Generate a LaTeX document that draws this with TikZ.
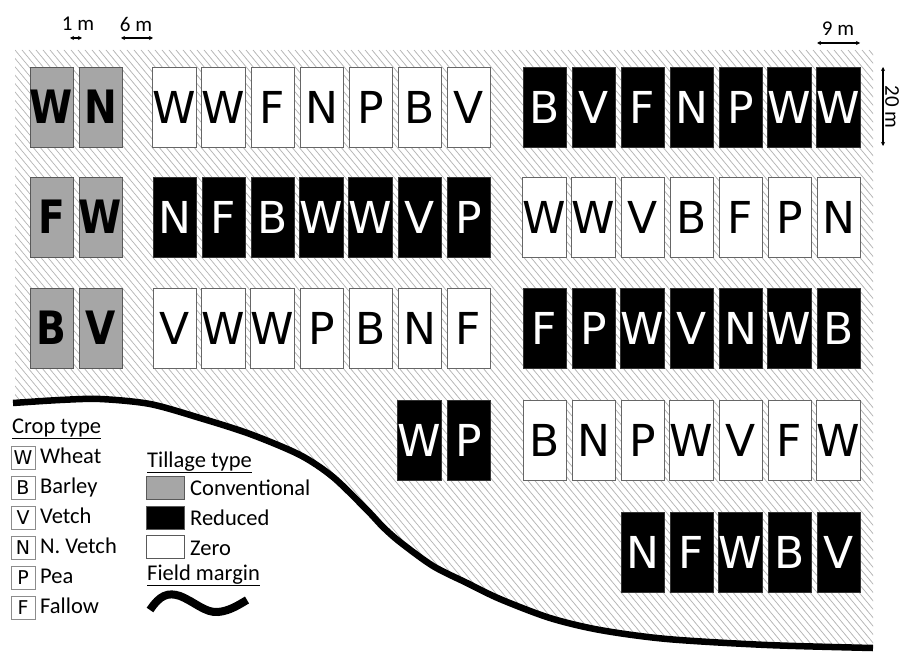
\documentclass[tikz,border=0pt]{standalone}
\usepackage{fontspec}
\setmainfont{Carlito}
\newfontfamily\cellfont{DejaVu Sans}
\newfontfamily\cellboldfont[FakeStretch=0.85]{DejaVu Sans Bold}
\usetikzlibrary{arrows.meta}
\tikzset{
  cellbox/.style={minimum width=43pt, minimum height=80pt, inner sep=0pt, outer sep=0pt, line width=0.8pt, font=\cellfont\fontsize{44}{44}\selectfont},
  convcell/.style={cellbox, draw=black!65, fill=black!35, font=\cellboldfont\fontsize{46}{46}\selectfont},
  redcell/.style={cellbox, draw=black!80, fill=black, text=white},
  zerocell/.style={cellbox, draw=black!60, fill=white},
  legtext/.style={font=\fontsize{22.5}{22.5}\selectfont, anchor=base west, inner sep=0pt},
  legcell/.style={draw=black!45, line width=0.7pt, minimum width=24pt, minimum height=23pt, inner sep=0pt, font=\cellfont\fontsize{19}{19}\selectfont},
  tillbox/.style={draw=black!65, line width=0.8pt, minimum width=38pt, minimum height=23pt, inner sep=0pt},
  scalebar/.style={{Stealth[length=4pt,width=4pt]}-{Stealth[length=4pt,width=4pt]}, line width=1.1pt},
  scaletext/.style={font=\fontsize{21}{21}\selectfont, inner sep=0pt},
  hatchline/.style={draw=black!30, line width=0.7pt},
  marginline/.style={line width=6.5pt},
}
\begin{document}
\begin{tikzpicture}[x=1pt,y=-1pt]
\useasboundingbox (0,0) rectangle (902,655);
\fill[white] (0,0) rectangle (902,655);

% hatched field area
\begin{scope}
\clip plot[smooth,tension=0.5] coordinates {(13,403) (60,400) (100,399) (150,404) (200,418) (250,434) (300,455) (333,477) (367,510) (383,527) (400,542) (433,566) (467,583) (500,599) (550,618) (600,630) (667,639) (767,645) (873,648)} -- (873,50) -- (15,50) -- (15,403) -- cycle;
\foreach \i in {-300,-293,...,880} \draw[hatchline] (\i,50) -- ++(600,720);
\end{scope}

% field margin
\draw[marginline] plot[smooth,tension=0.5] coordinates {(13,403) (60,400) (100,399) (150,404) (200,418) (250,434) (300,455) (333,477) (367,510) (383,527) (400,542) (433,566) (467,583) (500,599) (550,618) (600,630) (667,639) (767,645) (873,648)};

% row 1
\foreach \l [count=\i] in {W,N} \node[convcell] (c1\i) at ({51.5+49*(\i-1)},107) {\l};
\foreach \l [count=\i] in {W,W,F,N,P,B,V} \node[zerocell] (m1\i) at ({174.5+49*(\i-1)},107) {\l};
\foreach \l [count=\i] in {B,V,F,N,P,W,W} \node[redcell] (r1\i) at ({544.5+49*(\i-1)},107) {\l};
% row 2
\foreach \l [count=\i] in {F,W} \node[convcell] (c2\i) at ({51.5+49*(\i-1)},217) {\l};
\foreach \l [count=\i] in {N,F,B,W,W,V,P} \node[redcell] (m2\i) at ({174.5+49*(\i-1)},217) {\l};
\foreach \l [count=\i] in {W,W,V,B,F,P,N} \node[zerocell] (r2\i) at ({544.5+49*(\i-1)},217) {\l};
% row 3
\foreach \l [count=\i] in {B,V} \node[convcell] (c3\i) at ({51.5+49*(\i-1)},328) {\l};
\foreach \l [count=\i] in {V,W,W,P,B,N,F} \node[zerocell] (m3\i) at ({174.5+49*(\i-1)},328) {\l};
\foreach \l [count=\i] in {F,P,W,V,N,W,B} \node[redcell] (r3\i) at ({544.5+49*(\i-1)},328) {\l};
% row 4
\foreach \l [count=\i] in {W,P} \node[redcell] (m4\i) at ({419.5+49*(\i-1)},440) {\l};
\foreach \l [count=\i] in {B,N,P,W,V,F,W} \node[zerocell] (r4\i) at ({544.5+49*(\i-1)},440) {\l};
% row 5
\foreach \l [count=\i] in {N,F,W,B,V} \node[redcell] (r5\i) at ({642.5+49*(\i-1)},552) {\l};

% scale bars
\coordinate (s1a) at (70,38); \coordinate (s1b) at (82,38);
\draw[scalebar] (s1a) -- (s1b);
\node[scaletext] (s1t) at (78,24) {1 m};
\coordinate (s2a) at (121,38); \coordinate (s2b) at (153,38);
\draw[scalebar] (s2a) -- (s2b);
\node[scaletext] (s2t) at (136,24) {6 m};
\coordinate (s3a) at (817,43); \coordinate (s3b) at (860,43);
\draw[scalebar] (s3a) -- (s3b);
\node[scaletext] (s3t) at (838,29) {9 m};
\coordinate (s4a) at (883,67); \coordinate (s4b) at (883,146);
\draw[scalebar] (s4a) -- (s4b);
\node[scaletext, rotate=-90] (s4t) at (892,107) {20 m};

% legend: crop type
\node[legtext] (ct) at (12,433) {\underline{Crop type}};
\foreach \l/\t [count=\i] in {W/Wheat,B/Barley,V/Vetch,N/N. Vetch,P/Pea,F/Fallow}{
  \node[legcell] (lc\i) at (23,{457.5+30*(\i-1)}) {\l};
  \node[legtext] (lt\i) at (40,{463+30*(\i-1)}) {\t};
}
% legend: tillage type
\node[legtext] (tt) at (147,467) {\underline{Tillage type}};
\node[tillbox, fill=black!35] (tb1) at (165,487.5) {};
\node[tillbox, fill=black] (tb2) at (165,517.5) {};
\node[tillbox, fill=white] (tb3) at (165,547) {};
\node[legtext] (tl1) at (190,495) {Conventional};
\node[legtext] (tl2) at (190,525) {Reduced};
\node[legtext] (tl3) at (190,555) {Zero};
\node[legtext] (fm) at (147,580) {\underline{Field margin}};
\draw[line width=8pt] (150,610) .. controls (160,595) and (168,592) .. (180,596) .. controls (195,602) and (205,613) .. (218,612) .. controls (230,611) and (240,604) .. (247,600);
\end{tikzpicture}
\end{document}
